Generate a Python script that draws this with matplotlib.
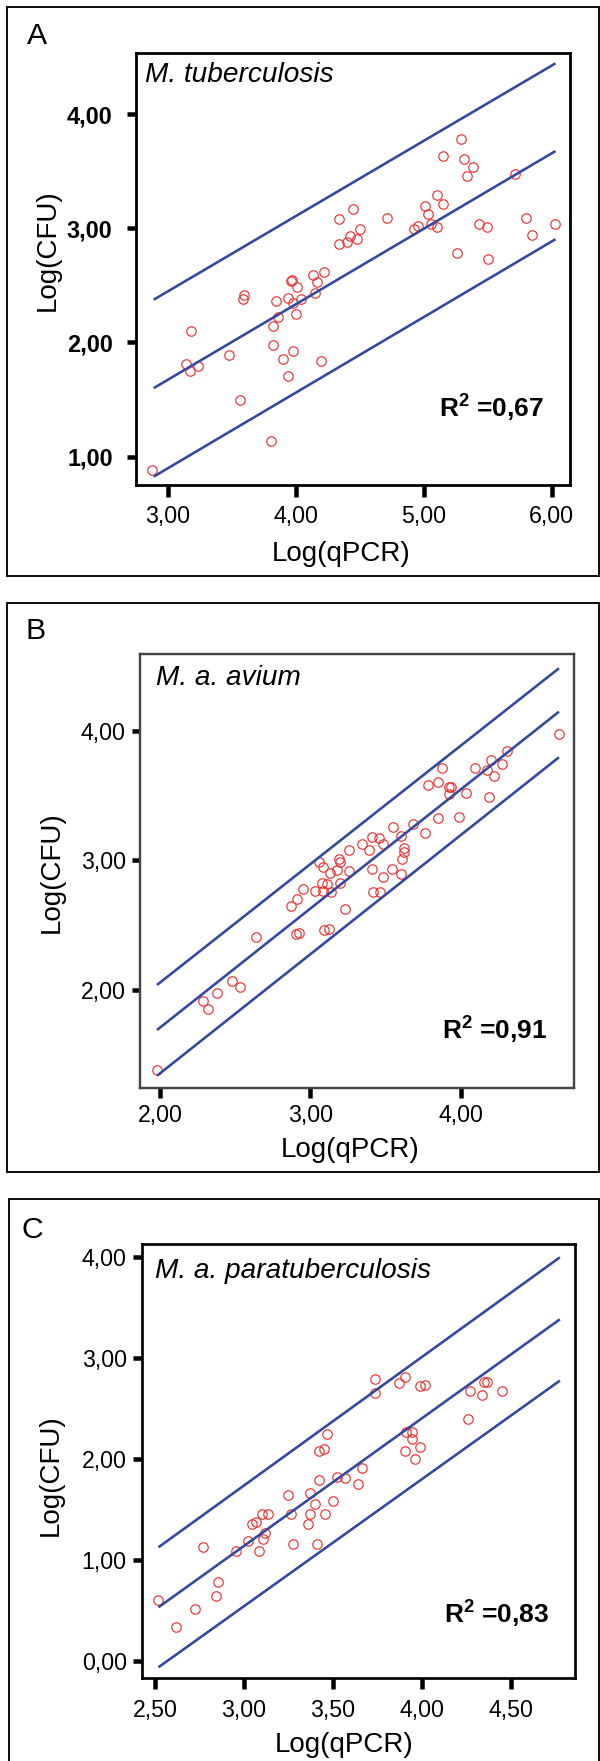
import matplotlib
matplotlib.use('Agg')
import matplotlib.pyplot as plt
from matplotlib.patches import Rectangle

plt.rcParams['font.family'] = ['Liberation Sans', 'DejaVu Sans']
plt.rcParams['mathtext.fontset'] = 'custom'
plt.rcParams['mathtext.rm'] = 'Liberation Sans'
plt.rcParams['mathtext.bf'] = 'Liberation Sans:bold'
plt.rcParams['mathtext.it'] = 'Liberation Sans:italic'

W, H, DPI = 600, 1761, 100

# ---------------- data: panel A (M. tuberculosis) ----------------
a_x = [2.88, 3.185, 3.141, 3.174, 3.234, 3.482, 3.565, 3.586, 3.599, 3.807,
       3.823, 3.823, 3.859, 3.844, 3.904, 3.943, 3.977, 3.943, 3.961, 3.969,
       3.982, 4.000, 4.013, 4.044, 4.138, 4.167, 4.154, 4.224, 4.198, 4.336,
       4.336, 4.398, 4.424, 4.445, 4.479, 4.505, 4.716, 4.924, 4.953, 5.010,
       5.036, 5.057, 5.107, 5.107, 5.151, 5.151, 5.258, 5.292, 5.318, 5.388,
       5.341, 5.435, 5.492, 5.505, 5.714, 5.799, 5.849, 6.023]
a_y = [0.883, 2.10, 1.811, 1.752, 1.796, 1.890, 1.493, 2.377, 2.415, 1.137,
       1.980, 2.141, 2.219, 2.365, 1.852, 1.706, 1.928, 2.392, 2.541, 2.547,
       2.342, 2.246, 2.482, 2.380, 2.587, 2.532, 2.430, 2.613, 1.834, 3.078,
       2.865, 2.882, 2.932, 3.168, 2.902, 2.996, 3.089, 2.996, 3.022, 3.194,
       3.127, 3.040, 3.011, 3.288, 3.209, 3.632, 2.786, 3.778, 3.603, 3.536,
       3.460, 3.037, 3.008, 2.733, 3.472, 3.089, 2.943, 3.040]
a_fit_x = [2.89, 6.03]
a_fit_mid = [1.600, 3.676]
a_fit_upper = [2.374, 4.444]
a_fit_lower = [0.825, 2.904]
a_xticks = [3.0, 4.0, 5.0, 6.0]
a_yticks = [1.0, 2.0, 3.0, 4.0]
a_r2 = "0,67"

# ---------------- data: panel B (M. a. avium) ----------------
b_x = [1.978, 2.288, 2.317, 2.377, 2.479, 2.530, 2.639, 2.869, 2.909, 2.905,
       2.922, 2.949, 3.031, 3.058, 3.086, 3.075, 3.109, 3.086, 3.131, 3.137,
       3.093, 3.122, 3.188, 3.197, 3.180, 3.197, 3.259, 3.259, 3.231, 3.341,
       3.388, 3.412, 3.455, 3.481, 3.412, 3.419, 3.463, 3.481, 3.543, 3.552,
       3.603, 3.623, 3.623, 3.612, 3.603, 3.681, 3.761, 3.785, 3.851, 3.851,
       3.874, 3.925, 3.933, 3.920, 3.991, 4.033, 4.095, 4.173, 4.202, 4.222,
       4.191, 4.275, 4.310, 4.656]
b_y = [1.382, 1.918, 1.851, 1.979, 2.069, 2.023, 2.407, 2.651, 2.700, 2.432,
       2.438, 2.780, 2.767, 2.986, 2.952, 2.824, 2.819, 2.767, 2.906, 2.754,
       2.463, 2.474, 3.014, 2.986, 2.927, 2.824, 3.081, 2.921, 2.625, 3.127,
       3.081, 3.184, 3.171, 3.127, 2.932, 2.757, 2.757, 2.870, 2.932, 3.256,
       3.189, 3.094, 3.068, 3.009, 2.896, 3.279, 3.210, 3.583, 3.604, 3.326,
       3.712, 3.570, 3.565, 3.514, 3.338, 3.524, 3.712, 3.699, 3.776, 3.653,
       3.488, 3.745, 3.848, 3.977]
b_fit_x = [1.98, 4.654]
b_fit_mid = [1.691, 4.149]
b_fit_upper = [2.039, 4.484]
b_fit_lower = [1.338, 3.797]
b_xticks = [2.0, 3.0, 4.0]
b_yticks = [2.0, 3.0, 4.0]
b_r2 = "0,91"

# ---------------- data: panel C (M. a. paratuberculosis) ----------------
c_x = [2.515, 2.618, 2.727, 2.772, 2.845, 2.856, 2.955, 3.023, 3.044, 3.066,
       3.085, 3.104, 3.109, 3.119, 3.137, 3.246, 3.263, 3.278, 3.362, 3.372,
       3.370, 3.400, 3.413, 3.422, 3.422, 3.452, 3.456, 3.465, 3.499, 3.525,
       3.568, 3.643, 3.662, 3.735, 3.735, 3.872, 3.908, 3.908, 3.911, 3.943,
       3.947, 3.964, 3.990, 3.990, 4.018, 4.262, 4.271, 4.339, 4.352, 4.365,
       4.449]
c_y = [0.602, 0.331, 0.512, 1.124, 0.645, 0.780, 1.091, 1.183, 1.352, 1.379,
       1.091, 1.455, 1.207, 1.263, 1.455, 1.643, 1.455, 1.154, 1.352, 1.455,
       1.660, 1.557, 1.154, 1.795, 2.083, 2.096, 1.455, 2.245, 1.587, 1.825,
       1.808, 1.749, 1.914, 2.793, 2.651, 2.750, 2.813, 2.079, 2.271, 2.271,
       2.198, 2.003, 2.122, 2.724, 2.737, 2.393, 2.678, 2.631, 2.764, 2.764,
       2.678]
c_fit_x = [2.519, 4.777]
c_fit_mid = [0.529, 3.385]
c_fit_upper = [1.124, 4.000]
c_fit_lower = [-0.066, 2.777]
c_xticks = [2.5, 3.0, 3.5, 4.0, 4.5]
c_yticks = [0.0, 1.0, 2.0, 3.0, 4.0]
c_r2 = "0,83"

panel_letters = ["A", "B", "C"]
species = ["M. tuberculosis", "M. a. avium", "M. a. paratuberculosis"]
x_label = "Log(qPCR)"
y_label = "Log(CFU)"

RED = '#f03232'
BLUE = '#3548a0'


def fx(px):
    return px / W


def fy(py):
    return 1 - py / H


def pt(px):
    return px * 72.0 / DPI


def fmt(v):
    return ("%.2f" % v).replace('.', ',')


fig = plt.figure(figsize=(W / DPI, H / DPI), dpi=DPI)

panels = [
    dict(x=a_x, y=a_y, fx_=a_fit_x, mid=a_fit_mid, up=a_fit_upper, lo=a_fit_lower,
         xt=a_xticks, yt=a_yticks, r2=a_r2,
         box=(135.7, 52.7, 570, 485), xlim=(2.75, 6.143), ylim=(0.752, 4.537),
         spine='black', spw=2.8, ybold=True, ypad=14, xpad=8.5, xlen=12, ylen=9,
         outer=(7, 7, 599, 576),
         letter=(27, 44), sp=(145, 81.7), r2pos=(439.3, 417.3),
         xl=(341, 561), yl=(48, 250)),
    dict(x=b_x, y=b_y, fx_=b_fit_x, mid=b_fit_mid, up=b_fit_upper, lo=b_fit_lower,
         xt=b_xticks, yt=b_yticks, r2=b_r2,
         box=(140, 654.3, 574, 1088.3), xlim=(1.867, 4.754), ylim=(1.241, 4.592),
         spine='#444444', spw=2.4, ybold=False, ypad=5.7, xpad=6, xlen=10, ylen=8.5,
         outer=(6.7, 603.3, 599, 1172.3),
         letter=(26, 639.3), sp=(156, 685), r2pos=(441.7, 1039.3),
         xl=(350, 1157.3), yl=(51.7, 872)),
    dict(x=c_x, y=c_y, fx_=c_fit_x, mid=c_fit_mid, up=c_fit_upper, lo=c_fit_lower,
         xt=c_xticks, yt=c_yticks, r2=c_r2,
         box=(141.7, 1244.3, 575, 1678.3), xlim=(2.425, 4.862), ylim=(-0.175, 4.129),
         spine='black', spw=2.7, ybold=False, ypad=6, xpad=10, xlen=11, ylen=9,
         outer=(9.3, 1199, 599, 1800),
         letter=(21, 1238), sp=(155, 1278.3), r2pos=(444, 1624),
         xl=(344.5, 1752), yl=(50.7, 1475)),
]

for i, p in enumerate(panels):
    l, t, r, b = p['box']
    ax = fig.add_axes([fx(l), fy(b), (r - l) / W, (b - t) / H])
    ax.plot(p['x'], p['y'], 'o', mfc='none', mec=RED, ms=6.8, mew=0.85,
            zorder=2, clip_on=False)
    for yy in (p['up'], p['mid'], p['lo']):
        ax.plot(p['fx_'], yy, color=BLUE, lw=pt(2.6), zorder=3,
                solid_capstyle='butt')
    ax.set_xlim(*p['xlim'])
    ax.set_ylim(*p['ylim'])
    ax.set_xticks(p['xt'])
    ax.set_yticks(p['yt'])
    ax.set_xticklabels([fmt(v) for v in p['xt']], fontsize=16.7)
    ax.set_yticklabels([fmt(v) for v in p['yt']], fontsize=16.9 if p['ybold'] else 16.7,
                       fontweight='bold' if p['ybold'] else 'normal')
    for s in ax.spines.values():
        s.set_color(p['spine'])
        s.set_linewidth(pt(p['spw']))
    ax.tick_params(axis='x', direction='out', length=pt(p['xlen']),
                   width=pt(4.5), pad=pt(p['xpad']), color='black',
                   top=False, bottom=True)
    ax.tick_params(axis='y', direction='out', length=pt(p['ylen']),
                   width=pt(4.5), pad=pt(p['ypad']), color='black',
                   left=True, right=False)

    # outer frame
    ol, ot, orr, ob = p['outer']
    fig.add_artist(Rectangle((fx(ol), fy(ob)), (orr - ol) / W, (ob - ot) / H,
                             transform=fig.transFigure, fill=False,
                             ec='#111111', lw=pt(2.0)))

    fig.text(fx(p['letter'][0]), fy(p['letter'][1]), panel_letters[i],
             fontsize=21.8, ha='left', va='baseline')
    fig.text(fx(p['sp'][0]), fy(p['sp'][1]), species[i], fontsize=20.2,
             style='italic', ha='left', va='baseline')
    fig.text(fx(p['r2pos'][0]), fy(p['r2pos'][1]),
             r'R$^{\mathbf{2}}$ =' + p['r2'],
             fontsize=19, fontweight='bold', ha='left', va='baseline')
    fig.text(fx(p['xl'][0]), fy(p['xl'][1]), x_label, fontsize=20,
             ha='center', va='baseline')
    fig.text(fx(p['yl'][0]), fy(p['yl'][1]), y_label, fontsize=20,
             rotation=90, ha='center', va='center')

fig.savefig('out.png', dpi=DPI)
